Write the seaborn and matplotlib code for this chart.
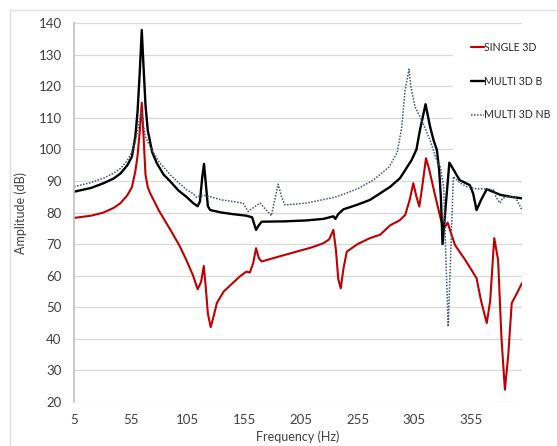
import pandas as pd
import matplotlib
matplotlib.use("Agg")
import matplotlib.pyplot as plt
import seaborn as sns
from matplotlib.patches import Rectangle

# SINGLE 3D
single_f = [5, 20, 31, 40, 46, 52, 56, 59, 61, 63, 64.7, 66, 68, 70, 72, 80, 90, 98, 104, 110,
            114, 117, 119.4, 121, 123, 125.5, 128, 131, 137, 145, 152, 157, 160, 163, 165.5, 168,
            170.5, 185, 200, 215, 225, 230, 233.7, 236, 238, 240.2, 242.5, 245.5, 255, 266, 275,
            284, 292, 297, 301, 304.2, 307, 309.5, 312, 315.4, 318, 323, 329, 332, 334.5, 337,
            341, 350, 360, 364, 369, 372, 375.6, 379, 382, 385, 388, 391, 395, 400]
single_db = [78.3, 79, 80, 81.5, 83, 85.5, 88, 93, 98, 106, 114.8, 106, 92, 88, 86.2, 80.5, 74.5,
             69.5, 65, 60, 55.7, 58, 63.1, 57, 48, 43.7, 47, 51.4, 55, 57.7, 60, 61.3, 61, 64,
             68.7, 65.5, 64.5, 66, 67.5, 69, 70.3, 71.5, 74.5, 68, 59, 56, 62, 67.6, 70, 71.9, 73,
             76, 77.5, 79.2, 84, 89.3, 85, 81.9, 88, 97.2, 94, 86.1, 77.1, 75.3, 76.8, 74, 69.7,
             65, 59.2, 52, 45, 52, 71.9, 65, 40, 23.9, 35, 51.3, 54, 57.6]

# MULTI 3D B
multi_b_f = [5, 20, 31, 40, 46, 52, 56, 59, 61, 63, 64.7, 66, 68, 70, 74, 78, 84, 90, 97, 104,
             110, 114, 116, 118, 119.6, 121, 123, 125, 135, 145, 157, 162, 165.5, 168, 170.5, 190,
             210, 225, 233.7, 235.5, 238, 242.5, 255, 266, 275, 284, 292.5, 302.7, 307, 310, 315,
             319, 322, 325, 327, 328.5, 330, 333, 336, 339, 345, 354, 357, 360, 364, 369, 375,
             381, 390, 400]
multi_b_db = [86.6, 87.8, 89.3, 90.8, 92.4, 95, 97.7, 104, 112, 125, 137.8, 128, 114, 106, 99,
              95.6, 92, 89.8, 87, 85, 83, 82, 83.5, 91, 95.4, 90, 82, 80.8, 80, 79.5, 79, 78.5,
              74.5, 76, 77.1, 77.2, 77.5, 78, 78.8, 78, 79.5, 81, 82.5, 84, 86.1, 88.2, 90.9, 96.6,
              100, 106, 114.3, 107.2, 103, 99.8, 93.5, 85, 70, 83, 95.8, 94, 90.3, 88.7, 86, 80.8,
              84, 87.4, 86.5, 85.6, 85, 84.5]

# MULTI 3D NB
multi_nb_f = [5, 20, 31, 40, 46, 52, 56, 59, 61, 63, 64.5, 66, 68, 72, 80, 90, 97, 104.4, 110,
              113, 116, 120, 125, 135, 145, 154, 158.5, 163, 169, 174, 179, 182, 185, 188, 191,
              210, 236.6, 255, 269, 283, 290, 294, 297, 300.4, 302, 305.7, 311.6, 318.9, 324.8,
              328, 331, 333, 335, 337, 339.5, 345, 351.3, 360, 368, 374.8, 377, 380.7, 383, 386.6,
              390, 394, 397, 400]
multi_nb_db = [88.2, 89.5, 90.9, 92.5, 94, 96.5, 99.3, 102.5, 106, 110, 112, 108, 104, 100.9, 96,
               91.9, 89.5, 87.2, 86, 84.8, 85.3, 85.4, 85, 84, 83.5, 83, 80.3, 81.5, 83, 81, 79,
               84, 89, 85, 82.4, 83, 85, 87.5, 90.3, 94.5, 99, 107, 118.8, 125.4, 120, 113.5,
               109.3, 103, 96.6, 94.5, 88, 65, 43.9, 65, 91.4, 89.5, 88.2, 87.5, 87.5, 87.2, 85,
               83, 84.5, 85, 85, 85, 83, 80.8]

x_ticks = [5, 55, 105, 155, 205, 255, 305, 355]
y_ticks = [20, 30, 40, 50, 60, 70, 80, 90, 100, 110, 120, 130, 140]

sns.set_style("white")
plt.rcParams['font.family'] = ['Lato', 'DejaVu Sans']

fig = plt.figure(figsize=(5.57, 4.46), dpi=100)
ax = fig.add_axes([0.133, 0.0987, 0.804, 0.8495])

sns.lineplot(x=single_f, y=single_db, ax=ax, color='#c00000', linewidth=1.5,
             label='SINGLE 3D', sort=False)
sns.lineplot(x=multi_b_f, y=multi_b_db, ax=ax, color='black', linewidth=1.7,
             label='MULTI 3D B', sort=False)
sns.lineplot(x=multi_nb_f, y=multi_nb_db, ax=ax, color='#44546a', linewidth=1.1,
             linestyle=(0, (1, 1)), label='MULTI 3D NB', sort=False)

ax.set_xlim(5, 400)
ax.set_ylim(20, 140)
ax.set_xticks(x_ticks)
ax.set_yticks(y_ticks)
ax.set_axisbelow(True)
ax.yaxis.grid(True, color='#d9d9d9', linewidth=0.9)
ax.xaxis.grid(False)
for s in ['top', 'right', 'bottom']:
    ax.spines[s].set_visible(False)
ax.spines['left'].set_color('#bfbfbf')
ax.spines['left'].set_linewidth(1.2)
ax.tick_params(axis='both', length=0, labelsize=9.5, labelcolor='#404040')
ax.tick_params(axis='y', pad=9)
ax.tick_params(axis='x', pad=9)
ax.set_xlabel('Frequency (Hz)', fontsize=9, color='#404040', labelpad=3)
ax.set_ylabel('Amplitude (dB)', fontsize=9, color='#404040', labelpad=8)

# white area behind the legend, covering the gridlines as in the original
ax.add_patch(Rectangle((0.846, 0.652), 0.16, 0.34, transform=ax.transAxes,
                       facecolor='white', edgecolor='none', zorder=1))

ax.legend(loc='upper left', bbox_to_anchor=(0.836, 0.918), bbox_transform=fig.transFigure,
          frameon=False, fontsize=7.6, handlelength=1.25, handletextpad=0.0,
          labelspacing=2.15, borderpad=0)
for t in ax.get_legend().get_texts():
    t.set_color('#262626')

fig.add_artist(Rectangle((10 / 557, -0.1), 1.2, 1 - 10 / 446 + 0.1, transform=fig.transFigure,
                         fill=False, edgecolor='#e0e0e0', linewidth=1))

fig.savefig('out.png', dpi=100)
